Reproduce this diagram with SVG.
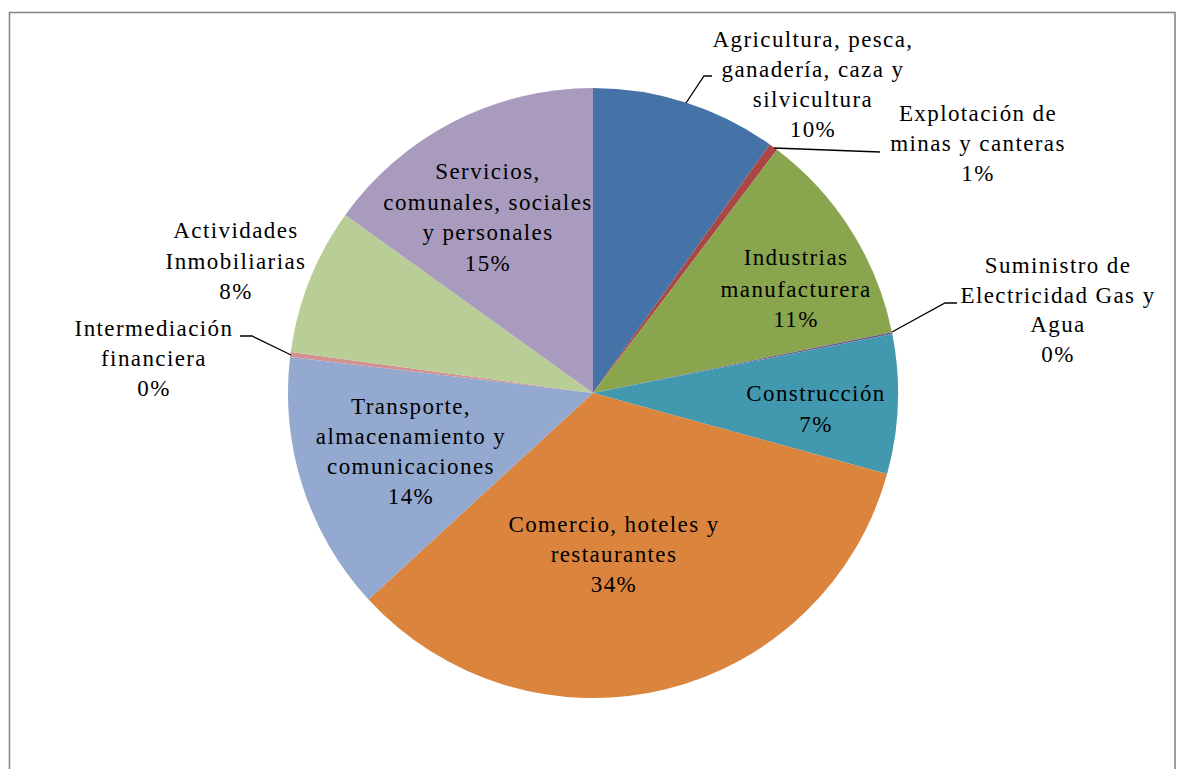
<svg xmlns="http://www.w3.org/2000/svg" width="1182" height="769" viewBox="0 0 1182 769">
<style>
.lead{fill:none;stroke:#000;stroke-width:1.3}
</style>
<rect x="0" y="0" width="1182" height="769" fill="#fff"/>
<rect x="9.5" y="12.5" width="1165.5" height="790" fill="#fff" stroke="#888" stroke-width="1.6"/>
<g id="slices">
<path id="agricultura" d="M593,393 L593,88 A305,305 0 0 1 769.7,144.4 Z" fill="#4572A7"/>
<path id="explotacion" d="M593,393 L769.7,144.4 A305,305 0 0 1 777.0,149.7 Z" fill="#AA4643"/>
<path id="industrias" d="M593,393 L777.0,149.7 A305,305 0 0 1 891.9,332.2 Z" fill="#89A54E"/>
<path id="suministro" d="M593,393 L891.9,332.2 A305,305 0 0 1 892.3,333.9 Z" fill="#71588F"/>
<path id="construccion" d="M593,393 L892.3,333.9 A305,305 0 0 1 887.1,474.0 Z" fill="#4198AF"/>
<path id="comercio" d="M593,393 L887.1,474.0 A305,305 0 0 1 368.5,599.5 Z" fill="#DB843D"/>
<path id="transporte" d="M593,393 L368.5,599.5 A305,305 0 0 1 290.1,356.9 Z" fill="#93A9CF"/>
<path id="intermediacion" d="M593,393 L290.1,356.9 A305,305 0 0 1 290.8,352.1 Z" fill="#D19392"/>
<path id="actividades" d="M593,393 L290.8,352.1 A305,305 0 0 1 345.3,215.0 Z" fill="#B9CD96"/>
<path id="servicios" d="M593,393 L345.3,215.0 A305,305 0 0 1 593,88 Z" fill="#A99BBD"/>
</g>
<g id="connectors">
<polyline class="lead" fill="none" stroke="#000" stroke-width="1.3" points="686,103 704,76 712,76"/>
<polyline class="lead" fill="none" stroke="#000" stroke-width="1.3" points="774,148 880,152"/>
<polyline class="lead" fill="none" stroke="#000" stroke-width="1.3" points="892,332 945,303 957,303"/>
<polyline class="lead" fill="none" stroke="#000" stroke-width="1.3" points="291,355 252,336 240,336"/>
</g>
<g id="labels" font-family="Liberation Serif, Times New Roman, serif" font-size="23" letter-spacing="1.4" fill="#000" text-anchor="middle">
<g id="label-agricultura"><text x="813" y="47">Agricultura, pesca,</text><text x="813" y="77">ganadería, caza y</text><text x="813" y="107">silvicultura</text><text x="813" y="137">10%</text></g>
<g id="label-explotacion"><text x="978" y="121">Explotación de</text><text x="978" y="151">minas y canteras</text><text x="978" y="181">1%</text></g>
<g id="label-industrias"><text x="796" y="265">Industrias</text><text x="796" y="297">manufacturera</text><text x="796" y="327">11%</text></g>
<g id="label-suministro"><text x="1058" y="273">Suministro de</text><text x="1058" y="303">Electricidad Gas y</text><text x="1058" y="332">Agua</text><text x="1058" y="362">0%</text></g>
<g id="label-construccion"><text x="816" y="401">Construcción</text><text x="816" y="432">7%</text></g>
<g id="label-comercio"><text x="614" y="532">Comercio, hoteles y</text><text x="614" y="562">restaurantes</text><text x="614" y="592">34%</text></g>
<g id="label-transporte"><text x="411" y="414">Transporte,</text><text x="411" y="444">almacenamiento y</text><text x="411" y="474">comunicaciones</text><text x="411" y="504">14%</text></g>
<g id="label-intermediacion"><text x="154" y="336">Intermediación</text><text x="154" y="366">financiera</text><text x="154" y="396">0%</text></g>
<g id="label-actividades"><text x="236" y="238">Actividades</text><text x="236" y="269">Inmobiliarias</text><text x="236" y="299">8%</text></g>
<g id="label-servicios"><text x="488" y="179">Servicios,</text><text x="488" y="210">comunales, sociales</text><text x="488" y="240">y personales</text><text x="488" y="271">15%</text></g>
</g>
</svg>
